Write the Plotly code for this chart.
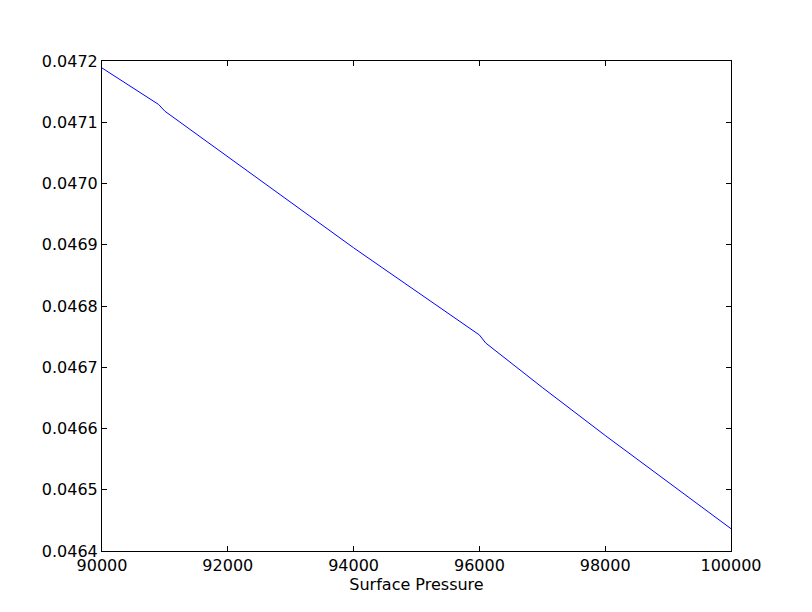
import plotly.graph_objects as go

pressure = [90000, 90900, 91000, 94000, 96000, 96100, 97000, 98000, 100000]
value = [0.0471886, 0.047129, 0.047118, 0.046895, 0.0467527, 0.0467396, 0.046667, 0.0465886, 0.0464364]

x_ticks = [90000, 92000, 94000, 96000, 98000, 100000]
y_ticks = [0.0464, 0.0465, 0.0466, 0.0467, 0.0468, 0.0469, 0.0470, 0.0471, 0.0472]

font = dict(family="DejaVu Sans", size=16, color="black")

fig = go.Figure()
fig.add_trace(go.Scatter(x=pressure, y=value, mode="lines",
                         line=dict(color="#0000ff", width=1), showlegend=False))

axis_common = dict(showline=True, linecolor="black", linewidth=1, mirror="ticks",
                   ticks="inside", ticklen=5, tickcolor="black", tickwidth=1,
                   showgrid=False, zeroline=False, automargin=False,
                   tickfont=font)

fig.update_layout(
    width=800, height=600,
    margin=dict(l=94, r=77, t=53, b=57),
    paper_bgcolor="white", plot_bgcolor="white",
    xaxis=dict(range=[90000, 100000], tickvals=x_ticks,
               ticktext=[str(v) for v in x_ticks],
               title=dict(text="Surface Pressure", standoff=0, font=font),
               **axis_common),
    yaxis=dict(range=[0.0464, 0.0472], tickvals=y_ticks,
               ticktext=[f"{v:.4f}" for v in y_ticks],
               **axis_common),
)

fig.write_html("out.html")
